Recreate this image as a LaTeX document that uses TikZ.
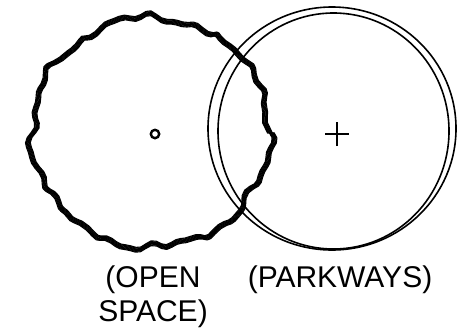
\documentclass[tikz,border=0pt]{standalone}
\usepackage{fontspec}
\setmainfont{Liberation Sans}
\usetikzlibrary{decorations.pathmorphing}

\tikzset{
  roughline/.style={line width=0.55pt, line join=round, decorate,
    decoration={random steps, segment length=5pt, amplitude=1.8pt}},
  ringline/.style={line width=0.8pt},
  caption/.style={align=center, inner sep=0pt,
    font=\fontsize{15}{17}\selectfont}
}

\begin{document}
\begin{tikzpicture}[x=0.5pt,y=-0.5pt]
\useasboundingbox (0,0) rectangle (458,332);

% open space: rough outline, a bundle of strokes
\foreach \d in {-3,-2,...,3} {
  \pgfmathsetseed{11}
  \draw[roughline] plot[domain=0:360, samples=145, variable=\t]
    ({151+(119+0.8*\d+3*sin(9*\t)+2*sin(17*\t+40)+1.5*sin(29*\t+10))*cos(\t)},
     {132.5+(115+0.8*\d+2.5*sin(7*\t+70)+2*sin(19*\t)+1.5*sin(31*\t+25))*sin(\t)}) -- cycle;
}
\node[circle, draw, line width=1.2pt, minimum size=4.2pt, inner sep=0pt] (opencentre) at (155,134) {};

% parkways: two rings
\draw[ringline] (332,128.5) ellipse[x radius=124, y radius=121.5];
\draw[ringline] (333.5,131) ellipse[x radius=115.5, y radius=118];
\coordinate (parkcentre) at (337,134);
\draw[line width=0.65pt] ([xshift=-6pt]parkcentre) -- ([xshift=6pt]parkcentre);
\draw[line width=0.65pt] ([yshift=-6pt]parkcentre) -- ([yshift=6pt]parkcentre);

% labels
\node[caption, anchor=north] (openlabel) at (153,265) {(OPEN\\SPACE)};
\node[caption, anchor=north] (parklabel) at (340,265) {(PARKWAYS)};
\end{tikzpicture}
\end{document}
